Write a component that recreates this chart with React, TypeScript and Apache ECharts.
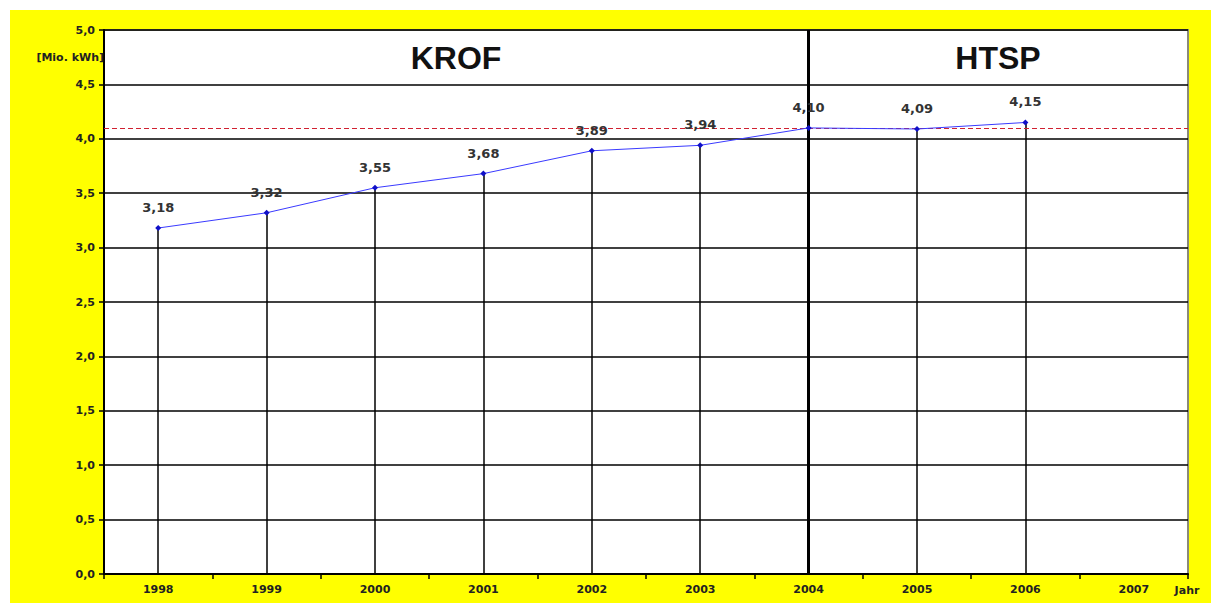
import React, { useEffect, useRef } from "react";
import * as echarts from "echarts";

const years = ["1998", "1999", "2000", "2001", "2002", "2003", "2004", "2005", "2006", "2007"];
const values = [3.18, 3.32, 3.55, 3.68, 3.89, 3.94, 4.1, 4.09, 4.15];
const referenceValue = 4.1;
const dividerYear = "2004";
const yMax = 5.0;
const sectionTitles = [
  { text: "KROF", x: 456 },
  { text: "HTSP", x: 998 },
];
const yUnit = "[Mio. kWh]";
const xUnit = "Jahr";

const fmt = (v: number, d: number) => v.toFixed(d).replace(".", ",");
const WIDE = "'DejaVu Sans', Verdana, sans-serif";

export default function App() {
  const ref = useRef<HTMLDivElement>(null);
  useEffect(() => {
    if (!ref.current) return;
    const chart = echarts.init(ref.current, undefined, { renderer: "svg" });
    const dropLines = values.map((v, i) => {
      const isDivider = years[i] === dividerYear;
      return [
        { xAxis: years[i], yAxis: 0 },
        {
          xAxis: years[i],
          yAxis: isDivider ? yMax : v,
          lineStyle: { color: "#000", width: isDivider ? 3 : 1.5, type: "solid" },
        },
      ];
    });
    chart.setOption({
      animation: false,
      backgroundColor: "#ffffff",
      textStyle: { fontFamily: WIDE },
      graphic: [
        {
          type: "rect",
          z: -10,
          silent: true,
          shape: { x: 10, y: 10, width: 1201, height: 593 },
          style: { fill: "#ffff00" },
        },
        ...sectionTitles.map((t) => ({
          type: "text",
          x: t.x,
          y: 58,
          z: 10,
          style: {
            text: t.text,
            font: "bold 32px 'Liberation Sans', Arial, sans-serif",
            fill: "#111",
            textAlign: "center",
            textVerticalAlign: "middle",
          },
        })),
        {
          type: "text",
          x: 104,
          y: 57,
          z: 10,
          style: {
            text: yUnit,
            font: `bold 11px ${WIDE}`,
            fill: "#222",
            textAlign: "right",
            textVerticalAlign: "middle",
          },
        },
        {
          type: "text",
          x: 1187,
          y: 590,
          z: 10,
          style: {
            text: xUnit,
            font: `bold 11px ${WIDE}`,
            fill: "#222",
            textAlign: "center",
            textVerticalAlign: "middle",
          },
        },
      ],
      grid: {
        left: 104,
        right: 1211 - 1188,
        top: 30,
        bottom: 603 - 574,
        show: true,
        backgroundColor: "#ffffff",
        borderColor: "#8a8a7a",
        borderWidth: 2,
      },
      xAxis: {
        type: "category",
        data: years,
        boundaryGap: true,
        axisLine: { show: true, lineStyle: { color: "#000", width: 2 } },
        axisTick: { show: true, length: 5, lineStyle: { color: "#000", width: 1.5 } },
        axisLabel: { color: "#222", fontSize: 11, fontWeight: "bold", margin: 10, fontFamily: WIDE },
        splitLine: { show: false },
      },
      yAxis: {
        type: "value",
        min: 0,
        max: yMax,
        interval: 0.5,
        axisLine: { show: true, lineStyle: { color: "#000", width: 2 } },
        axisTick: { show: true, length: 5, lineStyle: { color: "#000", width: 1.5 } },
        axisLabel: {
          color: "#222",
          fontSize: 11,
          fontWeight: "bold",
          margin: 9,
          fontFamily: WIDE,
          formatter: (v: number) => fmt(v, 1),
        },
        splitLine: { show: true, lineStyle: { color: "#000", width: 1.5 } },
      },
      series: [
        {
          type: "line",
          data: values,
          z: 5,
          symbol: "diamond",
          symbolSize: 6,
          itemStyle: { color: "#1010c8" },
          lineStyle: { color: "#3a3aff", width: 1 },
          label: {
            show: true,
            position: "top",
            distance: 11,
            color: "#333",
            fontSize: 13,
            fontWeight: "bold",
            fontFamily: WIDE,
            formatter: (p: any) => fmt(p.value, 2),
          },
          markLine: {
            silent: true,
            symbol: "none",
            label: { show: false },
            z: 2,
            data: [
              ...dropLines,
              [
                { xAxis: years[0], yAxis: referenceValue, x: 104 },
                {
                  xAxis: years[years.length - 1],
                  yAxis: referenceValue,
                  x: 1188,
                  lineStyle: { color: "#d02030", width: 1, type: [5, 3] },
                },
              ],
            ],
          },
        },
      ],
    });
    return () => chart.dispose();
  }, []);
  return (
    <div
      ref={ref}
      style={{ position: "fixed", left: 0, top: 0, width: 1211, height: 603 }}
    />
  );
}
